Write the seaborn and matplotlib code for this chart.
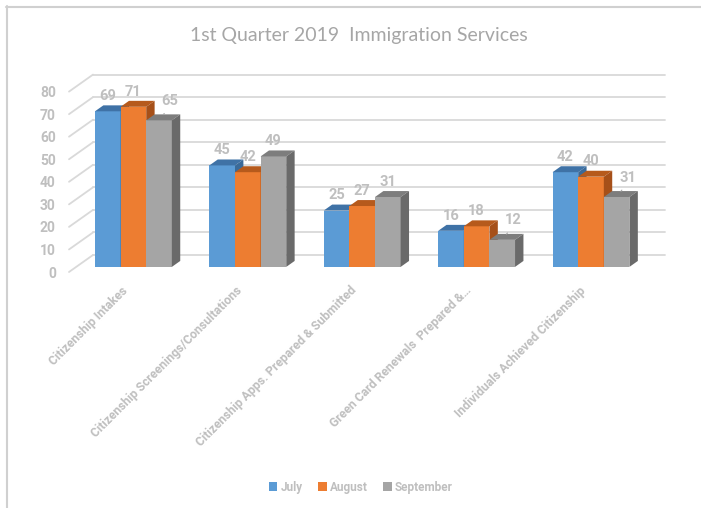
import numpy as np
import pandas as pd
import matplotlib
matplotlib.use("Agg")
import matplotlib.pyplot as plt
import seaborn as sns
from matplotlib.patches import Polygon, Patch
from matplotlib.lines import Line2D
from matplotlib.colors import to_hex

# ---- data -------------------------------------------------------------
categories = [
    "Citizenship Intakes",
    "Citizenship Screenings/Consultations",
    "Citizenship Apps. Prepared & Submitted",
    "Green Card Renewals  Prepared &\u2026",
    "Individuals Achieved Citizenship",
]
months = ["July", "August", "September"]
july = [69, 45, 25, 16, 42]
august = [71, 42, 27, 18, 40]
september = [65, 49, 31, 12, 31]
y_ticks = list(range(0, 81, 10))
title = "1st Quarter 2019  Immigration Services"

# ---- style ------------------------------------------------------------
face_colors = ["#5B9BD5", "#ED7D31", "#A5A5A5"]
top_colors = ["#3F72A6", "#B65A1C", "#7D7D7D"]
side_colors = ["#3A6A99", "#A65019", "#6A6A6A"]
text_grey = "#BFBFBF"
grid_grey = "#D9D9D9"
bold_font = ["Roboto", "DejaVu Sans"]

sns.set_theme(style="white")
plt.rcParams["font.family"] = ["Lato", "DejaVu Sans"]

W, H = 701, 508
fig = plt.figure(figsize=(W / 100, H / 100), dpi=100)
fig.patch.set_facecolor("white")

# axes geometry (pixels)
x0_px, base_px, span_px = 69, 272, 572
px_per_unit = 2.255
y_max = 88
ax = fig.add_axes([x0_px / W, 1 - base_px / H, span_px / W, y_max * px_per_unit / H])
px_per_cat = span_px / len(categories)

# depth of the pseudo-3D box, in data units
depth_x = 24 / px_per_cat
depth_y = 17 / px_per_unit
bar_front, bar_back = 0.30, 0.65

df = pd.DataFrame({
    "category": categories * 3,
    "month": np.repeat(months, len(categories)),
    "value": july + august + september,
})

sns.barplot(data=df, x="category", y="value", hue="month",
            order=categories, hue_order=months, palette=face_colors,
            saturation=1, width=0.672, gap=0, errorbar=None,
            legend=False, linewidth=0, ax=ax)

ax.set_xlim(-0.5, len(categories) - 0.5)
ax.set_ylim(0, y_max)
for s in ax.spines.values():
    s.set_visible(False)
ax.set_facecolor("none")
ax.set_xlabel("")
ax.set_ylabel("")

# back wall and side wall gridlines
xl, xr = -0.5, len(categories) - 0.5
for v in y_ticks:
    ax.plot([xl + depth_x, xr + depth_x], [v + depth_y, v + depth_y],
            color=grid_grey, lw=1.3, zorder=1, clip_on=False)
    ax.plot([xl, xl + depth_x], [v, v + depth_y],
            color=grid_grey, lw=1.3, zorder=1, clip_on=False)

# extrude each bar into a box: shifted front face, top and right side
hex_faces = [to_hex(c) for c in face_colors]
bars = sorted(ax.patches, key=lambda p: p.get_x())
fdx, fdy = bar_front * depth_x, bar_front * depth_y
ddx, ddy = (bar_back - bar_front) * depth_x, (bar_back - bar_front) * depth_y
prev_h = None
for rank, p in enumerate(bars):
    k = hex_faces.index(to_hex(p.get_facecolor()))
    z = 3 + rank * 0.1
    x = p.get_x() + fdx
    w = p.get_width()
    h = p.get_height()
    y0 = fdy
    y1 = fdy + h
    p.set_x(x)
    p.set_y(y0)
    p.set_zorder(z)
    p.set_clip_on(False)
    top = Polygon([(x, y1), (x + w, y1), (x + w + ddx, y1 + ddy), (x + ddx, y1 + ddy)],
                  closed=True, facecolor=top_colors[k], edgecolor="none", zorder=z, clip_on=False)
    side = Polygon([(x + w, y0), (x + w + ddx, y0 + ddy), (x + w + ddx, y1 + ddy), (x + w, y1)],
                   closed=True, facecolor=side_colors[k], edgecolor="none", zorder=z, clip_on=False)
    ax.add_patch(top)
    ax.add_patch(side)

    # value label; nudged right with a short leader when the left neighbour is taller
    crowded = k > 0 and prev_h is not None and prev_h - h > 4
    offset = (8, 14) if crowded else (0, 11)
    ax.annotate(f"{h:.0f}", (x + w / 2, y1), xytext=offset, textcoords="offset points",
                ha="center", va="center", fontsize=10.5, fontweight="bold",
                family=bold_font, color=text_grey, zorder=20)
    if crowded:
        ax.annotate("", (x + w / 2 + 2.5 / px_per_cat, y1 + ddy * 0.6),
                    xytext=(x + w / 2 + 7 / px_per_cat, y1 + 9 / px_per_unit),
                    arrowprops=dict(arrowstyle="-", color="#A6A6A6", lw=0.8),
                    zorder=20)
    prev_h = h if k < 2 else None

# ticks
ax.set_yticks(y_ticks)
ax.set_yticklabels([str(t) for t in y_ticks], fontsize=10, fontweight="bold",
                   family=bold_font, color=text_grey)
ax.tick_params(axis="y", length=0, pad=9.5)
ax.set_xticks(range(len(categories)))
ax.set_xticklabels(categories, rotation=45, ha="right", va="center",
                   rotation_mode="anchor", fontsize=8.8, fontweight="bold",
                   family=bold_font, color=text_grey)
ax.tick_params(axis="x", length=0, pad=12)

# title
fig.text(358.5 / W, 1 - 36 / H, title, ha="center", va="center",
         fontsize=14, color="#A6A6A6")

# legend
handles = [Patch(facecolor=c, edgecolor="none") for c in face_colors]
leg = fig.legend(handles, months, loc="center", bbox_to_anchor=(361 / W, 1 - 487 / H),
                 ncol=3, frameon=False, handlelength=0.7, handleheight=0.7,
                 handletextpad=0.3, columnspacing=1.3,
                 prop={"size": 8.5, "weight": "bold", "family": bold_font})
for t in leg.get_texts():
    t.set_color(text_grey)

# chart frame (left and top edges)
fig.add_artist(Line2D([6.5 / W, 6.5 / W], [0, 1 - 6 / H], transform=fig.transFigure,
                      color="#D0D0D0", lw=1.5))
fig.add_artist(Line2D([6 / W, 1], [1 - 6.5 / H, 1 - 6.5 / H], transform=fig.transFigure,
                      color="#D0D0D0", lw=1.5))

fig.savefig("out.png", dpi=100, facecolor="white")
